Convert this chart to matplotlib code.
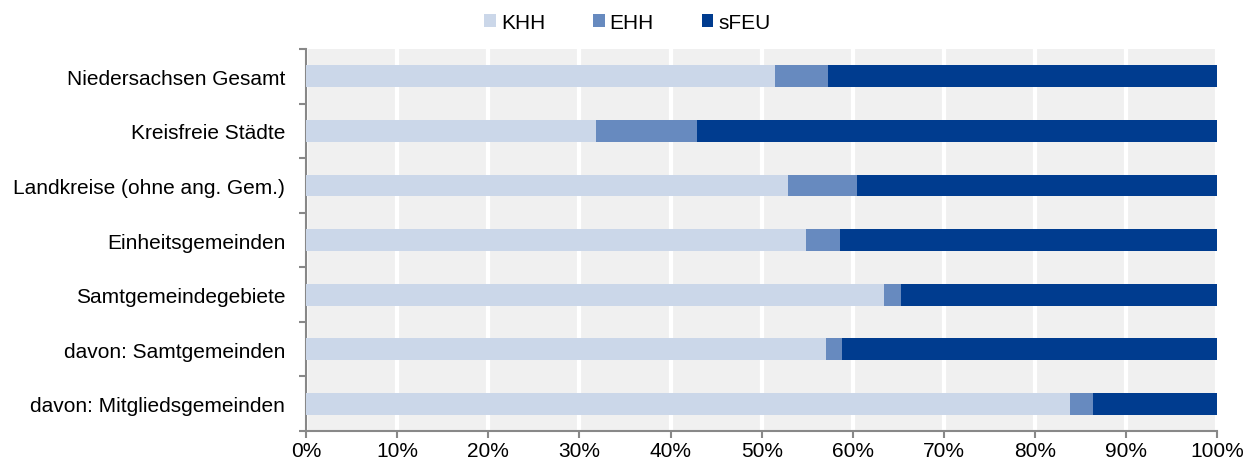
import matplotlib
matplotlib.use("Agg")
import matplotlib.pyplot as plt
import numpy as np
from matplotlib.ticker import FixedLocator, PercentFormatter

plt.rcParams['font.family'] = ['Liberation Sans', 'DejaVu Sans']

categories = ["Niedersachsen Gesamt", "Kreisfreie Städte", "Landkreise (ohne ang. Gem.)",
              "Einheitsgemeinden", "Samtgemeindegebiete", "davon: Samtgemeinden",
              "davon: Mitgliedsgemeinden"]
khh = [51.5, 31.8, 52.9, 54.9, 63.4, 57.1, 83.8]
ehh = [5.8, 11.1, 7.6, 3.7, 1.9, 1.7, 2.6]
sfeu = [100 - a - b for a, b in zip(khh, ehh)]
series_names = ["KHH", "EHH", "sFEU"]
colors = ["#CBD7E9", "#678ABF", "#003C8F"]

fig = plt.figure(figsize=(12.55, 4.64), dpi=100)
ax = fig.add_axes([0.2438, 0.069, 0.7262, 0.823])
ax.set_facecolor("#F0F0F0")

y = np.arange(len(categories))
left = np.zeros(len(categories))
for name, vals, c in zip(series_names, [khh, ehh, sfeu], colors):
    ax.barh(y, vals, left=left, height=0.4, color=c, label=name, zorder=3)
    left += np.array(vals)

ax.set_xlim(0, 100)
ax.set_ylim(len(categories) - 0.5, -0.5)
ax.set_xticks(np.arange(0, 101, 10))
ax.xaxis.set_major_formatter(PercentFormatter(decimals=0))
ax.set_yticks(y)
ax.set_yticklabels(categories)
ax.yaxis.set_minor_locator(FixedLocator(np.arange(-0.5, len(categories), 1)))
ax.tick_params(axis='y', which='major', length=0, pad=15, labelsize=15)
ax.tick_params(axis='y', which='minor', length=5, color='#888888', width=1.5)
ax.tick_params(axis='x', which='major', length=5, color='#888888', width=1.5, labelsize=15, pad=2)
ax.grid(axis='x', color='white', linewidth=3, zorder=1)
ax.set_axisbelow(True)
for s in ['top', 'right']:
    ax.spines[s].set_visible(False)
for s in ['left', 'bottom']:
    ax.spines[s].set_color('#888888')
    ax.spines[s].set_linewidth(1.5)

fig.legend(loc='upper center', bbox_to_anchor=(0.5, 1.01), ncol=3, frameon=False,
           fontsize=15, handlelength=0.55, handleheight=0.55, handletextpad=0.25,
           columnspacing=2.3)

fig.savefig("out.png", dpi=100)
